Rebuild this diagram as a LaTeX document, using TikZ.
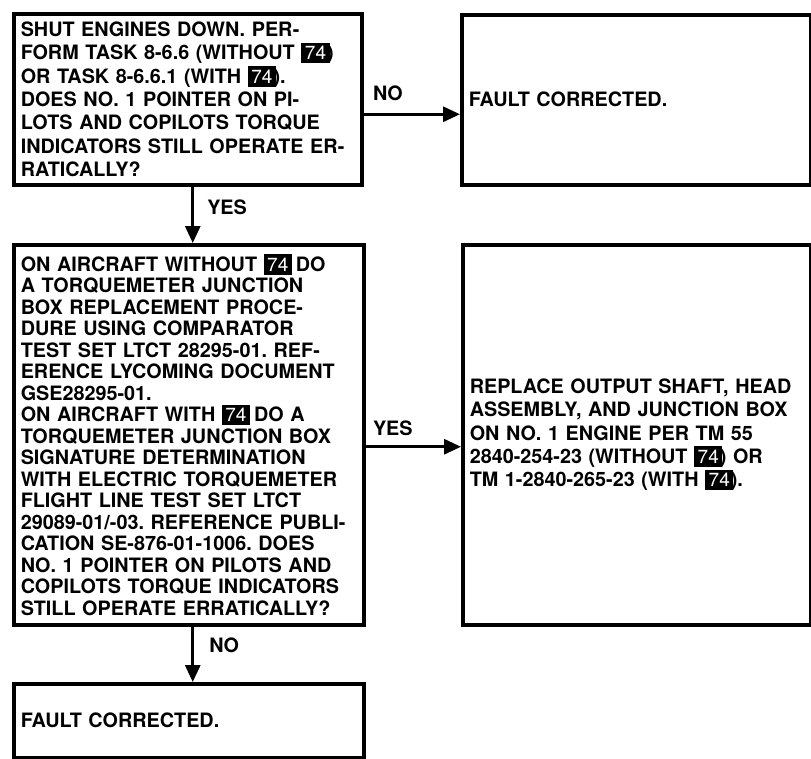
\documentclass[tikz,border=0pt]{standalone}
\usepackage{fontspec}
\setmainfont{TeX Gyre Heros}
\usepackage{tikz}
\usetikzlibrary{arrows.meta, positioning}
\frenchspacing

% black tag with the serial effectivity code
\newcommand{\effcode}{{\setlength{\fboxsep}{3.5pt}\colorbox{black}{\textcolor{white}{\fontsize{19}{19}\selectfont\mdseries 74}}}\kern-2.5pt}

\tikzset{
  stepblock/.style={draw, line width=3.5pt, anchor=north west, inner xsep=7pt, inner ysep=0pt, align=left, font=\fontsize{19.8}{23.3}\selectfont\bfseries},
  flowarrow/.style={line width=3pt, -{Triangle[length=17pt,width=15pt]}},
  flowlabel/.style={font=\fontsize{19.8}{23.3}\selectfont\bfseries, inner sep=0pt}
}

\begin{document}
\begin{tikzpicture}[x=1pt, y=-1pt]

		\useasboundingbox (0,0) rectangle (811,758);

		\node[stepblock, text width=334pt, minimum height=171pt] (check1) at (12,12) {SHUT ENGINES DOWN. PER-\\FORM TASK 8-6.6 (WITHOUT \effcode)\\OR TASK 8-6.6.1 (WITH \effcode).\\DOES NO. 1 POINTER ON PI-\\LOTS AND COPILOTS TORQUE\\INDICATORS STILL OPERATE ER-\\RATICALLY?};
		\node[stepblock, text width=335pt, minimum height=170pt] (fixed1) at (460,13) {FAULT CORRECTED.};
		\node[stepblock, text width=336pt, minimum height=380pt, font=\fontsize{19.8}{21.5}\selectfont\bfseries] (check2) at (12,243) {ON AIRCRAFT WITHOUT \effcode\ DO\\A TORQUEMETER JUNCTION\\BOX REPLACEMENT PROCE-\\DURE USING COMPARATOR\\TEST SET LTCT 28295-01. REF-\\ERENCE LYCOMING DOCUMENT\\GSE28295-01.\\ON AIRCRAFT WITH \effcode\ DO A\\TORQUEMETER JUNCTION BOX\\SIGNATURE DETERMINATION\\WITH ELECTRIC TORQUEMETER\\FLIGHT LINE TEST SET LTCT\\29089-01/-03. REFERENCE PUBLI-\\CATION SE-876-01-1006. DOES\\NO. 1 POINTER ON PILOTS AND\\COPILOTS TORQUE INDICATORS\\STILL OPERATE ERRATICALLY?};
		\node[stepblock, text width=334pt, minimum height=380pt] (replace) at (461,243) {REPLACE OUTPUT SHAFT, HEAD\\ASSEMBLY, AND JUNCTION BOX\\ON NO. 1 ENGINE PER TM 55\\2840-254-23 (WITHOUT \effcode) OR\\TM 1-2840-265-23 (WITH \effcode).};
		\node[stepblock, text width=336pt, minimum height=74pt] (fixed2) at (12,682) {FAULT CORRECTED.};

		% decision branches
		\draw[flowarrow] ([yshift=-15pt]check1.east) -- ([yshift=-15pt]check1.east -| fixed1.west) node[flowlabel, pos=0, anchor=south west, xshift=8pt, yshift=12pt] {NO};
		\draw[flowarrow] ([xshift=5pt]check1.south) -- ([xshift=5pt]check1.south |- check2.north) node[flowlabel, pos=0, anchor=north west, xshift=13pt, yshift=-12pt] {YES};
		\draw[flowarrow] ([yshift=-12pt]check2.east) -- ([yshift=-12pt]check2.east -| replace.west) node[flowlabel, pos=0, anchor=south west, xshift=6pt, yshift=10pt] {YES};
		\draw[flowarrow] ([xshift=4pt]check2.south) -- ([xshift=4pt]check2.south |- fixed2.north) node[flowlabel, pos=0, anchor=north west, xshift=15pt, yshift=-10pt] {NO};
	\end{tikzpicture}
\end{document}
